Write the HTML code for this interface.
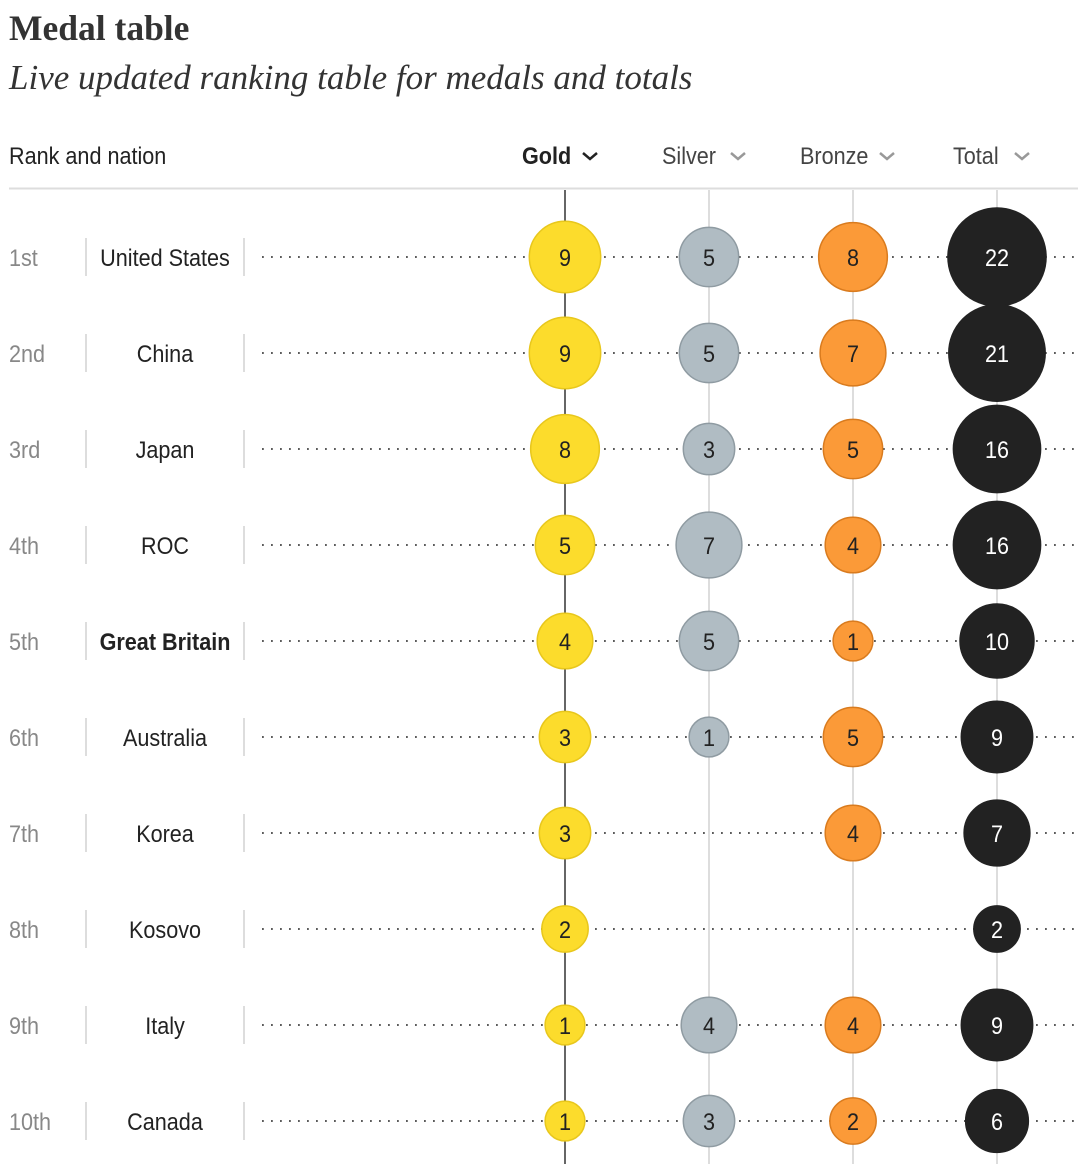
<!DOCTYPE html>
<html><head><meta charset="utf-8">
<style>
body{margin:0;background:#fff;width:1078px;height:1164px;overflow:hidden}
svg text{font-family:"Liberation Sans Narrow","Liberation Sans",sans-serif}
</style></head>
<body>
<svg id="chart" width="1078" height="1164" viewBox="0 0 1078 1164">
<text x="9" y="40" style="font-family:'Liberation Serif',serif;font-weight:bold;font-size:35.5px;fill:#333">Medal table</text>
<text x="9" y="89" style="font-family:'Liberation Serif',serif;font-style:italic;font-size:35px;fill:#333">Live updated ranking table for medals and totals</text>
<text transform="translate(9 164) scale(0.9 1)" font-size="24" fill="#222">Rank and nation</text>
<line x1="9" y1="188.5" x2="1078" y2="188.5" stroke="#ddd" stroke-width="2"/>
<g id="grid"></g>
<g id="rows"></g>
</svg>
<script>
const nations=["United States","China","Japan","ROC","Great Britain","Australia","Korea","Kosovo","Italy","Canada"];
const ranks=["1st","2nd","3rd","4th","5th","6th","7th","8th","9th","10th"];
const gold=[9,9,8,5,4,3,3,2,1,1];
const silver=[5,5,3,7,5,1,0,0,4,3];
const bronze=[8,7,5,4,1,5,4,0,4,2];
const total=[22,21,16,16,10,9,7,2,9,6];
const colNames=["Gold","Silver","Bronze","Total"];

const NS="http://www.w3.org/2000/svg";
const svg=document.getElementById('chart');
const grid=document.getElementById('grid');
const rowsG=document.getElementById('rows');
function mk(t,a,p){const e=document.createElementNS(NS,t);for(const k in a)e.setAttribute(k,a[k]);p.appendChild(e);return e;}
function txt(x,y,a,p){a.transform=`translate(${x} ${y}) scale(0.9 1)`;return mk('text',a,p);}
const colX=i=>565+i*144;
const rowY=i=>257+i*96;
const rScale=v=>12+7.9*Math.sqrt(v);
const series=[gold,silver,bronze,total];
const fills=["#fcdc2c","#b0bcc3","#fb9a38","#222"];
const strokes=["#e8c71c","#8f9ba2","#d97b1e","#222"];
const textCol=["#222","#222","#222","#fff"];
const headX=[522,662,800,953];
const chevX=[590,738,887,1022];

colNames.forEach((c,i)=>{
  const t=txt(headX[i],164,{'font-size':24,fill:i==0?'#222':'#444','font-weight':i==0?'bold':'normal'},svg);
  t.textContent=c;
  
  
  const ch=mk('path',{d:`M${chevX[i]-7} ${153}l7 6l7 -6`,fill:'none',stroke:i==0?'#222':'#999','stroke-width':2.5},svg);
  
  
  const l=mk('line',{x1:colX(i),x2:colX(i),y1:190,y2:1164,stroke:i==0?'#666':'#ddd','stroke-width':2},grid);
  
  
});

nations.forEach((n,i)=>{
  const y=rowY(i);
  const g=mk('g',{},rowsG);
  
  
  const dl=mk('line',{x1:262,x2:1078,y1:y,y2:y,stroke:'#444','stroke-width':1.8,'stroke-dasharray':'1.8 7.2'},g);
  
  
  const rt=txt(9,y+9,{'font-size':24,fill:'#888'},g);
  rt.textContent=ranks[i];
  
  
  [86,244].forEach(x=>{
    const s=mk('line',{x1:x,x2:x,y1:y-19,y2:y+19,stroke:'#ddd','stroke-width':2},g);
    
    
  });
  const nt=txt(165,y+9,{'font-size':24,fill:'#222','text-anchor':'middle','font-weight':n=='Great Britain'?'bold':'normal'},g);
  nt.textContent=n;
  
  
  series.forEach((s,j)=>{
    const v=s[i]; if(!v) return;
    const c=mk('circle',{cx:colX(j),cy:y,r:rScale(v),fill:fills[j],stroke:strokes[j],'stroke-width':1.5},g);
    
    
    const t=txt(colX(j),y+9,{'font-size':24,fill:textCol[j],'text-anchor':'middle'},g);
    t.textContent=v;
    
    
  });
});
</script>
</body></html>
